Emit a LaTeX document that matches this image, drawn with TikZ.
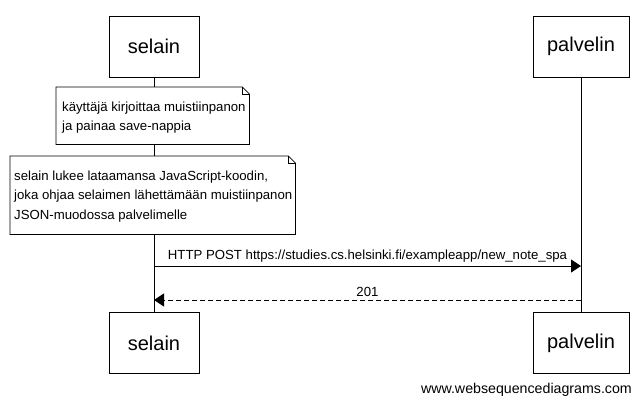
\documentclass[tikz,border=0pt]{standalone}
\usepackage{fontspec}
\setmainfont{Liberation Sans}
\usetikzlibrary{arrows.meta}
\begin{document}
\begin{tikzpicture}[x=1pt,y=-1pt,
  actor/.style={draw,line width=1pt,fill=white,minimum height=61pt,
    font=\fontsize{20}{24}\selectfont,inner sep=0pt},
  noteframe/.style={fill=white,anchor=north west,inner sep=0pt},
  notetext/.style={align=left,anchor=west,inner sep=0pt,
    font=\fontsize{13.2}{19.5}\selectfont},
  fold/.style={line width=0.8pt},
  lifeline/.style={line width=0.8pt},
  msg/.style={line width=0.8pt,-{Triangle[length=10pt,width=13pt]}},
  reply/.style={msg,dash pattern=on 5pt off 3pt},
  lbl/.style={font=\fontsize{13.2}{15}\selectfont,inner sep=3pt}]
\useasboundingbox (0,0) rectangle (642,405);

% participants, top and bottom
\node[actor,minimum width=90pt] (selTop) at (154,46.5) {selain};
\node[actor,minimum width=96pt] (palTop) at (581,46.5) {palvelin};
\node[actor,minimum width=90pt] (selBot) at (154,343) {selain};
\node[actor,minimum width=96pt] (palBot) at (581,343) {palvelin};

% lifelines
\draw[lifeline] (selTop.south) -- (selBot.north);
\draw[lifeline] (palTop.south) -- (palBot.north);

% notes over the browser lifeline
\node[noteframe,minimum width=193pt,minimum height=57pt] (noteA) at (56,87) {};
\node[notetext] (noteAtext) at ([xshift=6pt,yshift=-2pt]noteA.west)
  {käyttäjä kirjoittaa muistiinpanon\\ja painaa save-nappia};
\node[noteframe,minimum width=285pt,minimum height=78pt] (noteB) at (10,156) {};
\node[notetext] (noteBtext) at ([xshift=4pt,yshift=-1pt]noteB.west)
  {selain lukee lataamansa JavaScript-koodin,\\joka ohjaa selaimen lähettämään muistiinpanon\\JSON-muodossa palvelimelle};
\foreach \n in {noteA,noteB}{
  \draw[fold] (\n.north west) -- ([xshift=-7pt]\n.north east)
    -- ([yshift=-7pt]\n.north east) -- (\n.south east)
    -- (\n.south west) -- cycle;
  \draw[fold] ([xshift=-7pt]\n.north east) -- ([xshift=-7pt,yshift=-7pt]\n.north east)
    -- ([yshift=-7pt]\n.north east);
}

% messages
\coordinate (postFrom) at (selTop.south |- 0,266);
\coordinate (postTo) at (palTop.south |- 0,266);
\coordinate (ackFrom) at (palTop.south |- 0,300);
\coordinate (ackTo) at (selTop.south |- 0,300);
\draw[msg] (postFrom) -- (postTo)
  node[lbl,midway,above] {HTTP POST https://studies.cs.helsinki.fi/exampleapp/new\_note\_spa};
\draw[reply] (ackFrom) -- (ackTo)
  node[lbl,midway,above] {201};

% footer
\node[font=\fontsize{14.2}{16}\selectfont,anchor=east,inner sep=0pt] (site) at (632,390)
  {www.websequencediagrams.com};
\end{tikzpicture}
\end{document}
